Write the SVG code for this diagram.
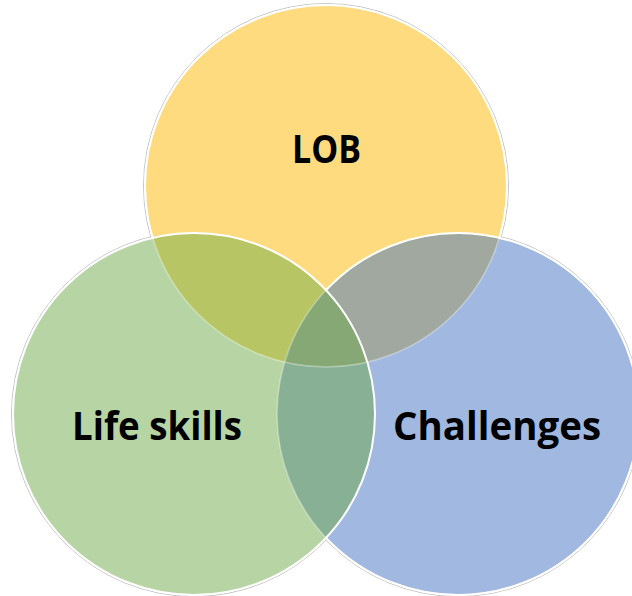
<svg xmlns="http://www.w3.org/2000/svg" width="632" height="596" viewBox="0 0 632 596">
  <style>
    .lbl { font-family: "Open Sans", "Liberation Sans", sans-serif; font-weight: 700; font-size: 40px; fill: #000000; }
    .ring { fill: none; stroke: #C4C4C4; stroke-width: 1; }
    .edge { fill: none; stroke: #FFFFFF; stroke-width: 2; }
    .faint { fill: none; stroke: #FFFFFF; stroke-width: 1.5; stroke-opacity: 0.35; }
  </style>
  <defs>
    <clipPath id="clipY"><circle cx="326" cy="186" r="181"/></clipPath>
    <clipPath id="clipB"><circle cx="458" cy="414" r="181"/></clipPath>
    <clipPath id="notG"><path clip-rule="evenodd" d="M-10 -10H650V610H-10Z M13 414a181 181 0 1 0 362 0a181 181 0 1 0 -362 0Z"/></clipPath>
    <clipPath id="notB"><path clip-rule="evenodd" d="M-10 -10H650V610H-10Z M277 414a181 181 0 1 0 362 0a181 181 0 1 0 -362 0Z"/></clipPath>
  </defs>
  <rect width="632" height="596" fill="#FFFFFF"/>
  <g id="shadow-rings">
    <circle class="ring" cx="326" cy="186" r="182.5"/>
    <circle class="ring" cx="194" cy="414" r="182.5"/>
    <circle class="ring" cx="458" cy="414" r="182.5"/>
  </g>
  <g id="lob">
    <circle cx="326" cy="186" r="181" fill="#FFDB80"/>
  </g>
  <g id="challenges">
    <circle cx="458" cy="414" r="181" fill="#A1B8E0"/>
  </g>
  <g id="life-skills">
    <circle cx="194" cy="414" r="181" fill="#B7D5A4"/>
  </g>
  <g id="overlaps">
    <circle cx="194" cy="414" r="181" fill="#B8C565" clip-path="url(#clipY)"/>
    <circle cx="458" cy="414" r="181" fill="#A0A8A0" clip-path="url(#clipY)"/>
    <circle cx="194" cy="414" r="181" fill="#87B094" clip-path="url(#clipB)"/>
    <g clip-path="url(#clipY)">
      <circle cx="194" cy="414" r="181" fill="#86A874" clip-path="url(#clipB)"/>
    </g>
  </g>
  <g id="outlines">
    <circle class="faint" cx="326" cy="186" r="181"/>
    <circle class="faint" cx="458" cy="414" r="181"/>
    <g clip-path="url(#notG)">
      <circle class="edge" cx="326" cy="186" r="181" clip-path="url(#notB)"/>
    </g>
    <circle class="edge" cx="458" cy="414" r="181" clip-path="url(#notG)"/>
    <circle class="edge" cx="194" cy="414" r="181"/>
  </g>
  <g id="labels">
    <text class="lbl" x="292" y="163" textLength="69" lengthAdjust="spacingAndGlyphs">LOB</text>
    <text class="lbl" x="72" y="440" textLength="170" lengthAdjust="spacingAndGlyphs">Life skills</text>
    <text class="lbl" x="393" y="440" textLength="208" lengthAdjust="spacingAndGlyphs">Challenges</text>
  </g>
</svg>
